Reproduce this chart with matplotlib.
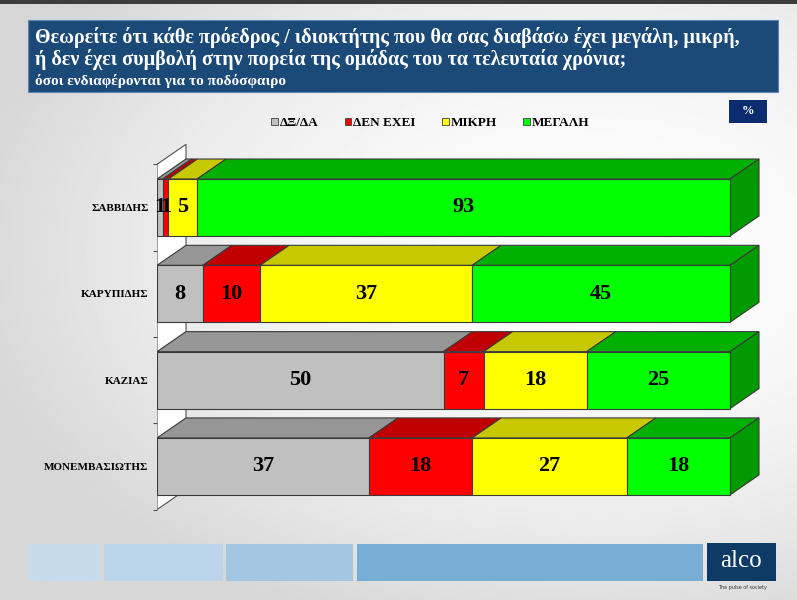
import numpy as np
import matplotlib.pyplot as plt
from matplotlib.patches import Rectangle, Polygon, Patch

# ------------------------------
# Data
# ------------------------------
people = ['ΣΑΒΒΙΔΗΣ', 'ΚΑΡΥΠΙΔΗΣ', 'ΚΑΖΙΑΣ', 'ΜΟΝΕΜΒΑΣΙΩΤΗΣ']
answers = ['ΔΞ/ΔΑ', 'ΔΕΝ ΕΧΕΙ', 'ΜΙΚΡΗ', 'ΜΕΓΑΛΗ']
dk_na = [1, 8, 50, 37]
none_ = [1, 10, 7, 18]
small = [5, 37, 18, 27]
large = [93, 45, 25, 18]
series = [dk_na, none_, small, large]

title1 = 'Θεωρείτε ότι κάθε πρόεδρος / ιδιοκτήτης που θα σας διαβάσω έχει μεγάλη, μικρή,'
title2 = 'ή δεν έχει συμβολή στην πορεία της ομάδας του τα τελευταία χρόνια;'
subtitle = 'όσοι ενδιαφέρονται για το ποδόσφαιρο'

front = ['#c0c0c0', '#ff0000', '#ffff00', '#00ff00']
top = ['#969696', '#c00000', '#c8c800', '#00b000']
side = '#009a00'
edge = '#3a3a3a'
serif = 'Liberation Serif'

W, H = 797, 600
fig = plt.figure(figsize=(W / 100, H / 100), dpi=100)

# ------------------------------
# Background + decoration (pixel coordinates)
# ------------------------------
bg = fig.add_axes([0, 0, 1, 1])
yy, xx = np.mgrid[0:1:300j, 0:1:400j]
grad = 0.99 - 0.13 * ((xx - 0.75) / 0.75) ** 2 - 0.12 * ((yy - 0.42) / 0.6) ** 2
grad = np.clip(grad, 0.84, 1.0)
bg.imshow(grad, cmap='gray', vmin=0, vmax=1, extent=[0, W, H, 0], aspect='auto')
bg.set_xlim(0, W)
bg.set_ylim(H, 0)
bg.axis('off')
bg.add_patch(Rectangle((0, 0), W, 4, color='#3c3c3c', lw=0))

# title box
bg.add_patch(Rectangle((28, 20), 750, 72, facecolor='#1c4a78', edgecolor='#5a86b8', lw=0.8))
bg.text(35, 37, title1, color='white', fontsize=14.5, fontweight='bold', family=serif, va='center')
bg.text(35, 60, title2, color='white', fontsize=14.5, fontweight='bold', family=serif, va='center')
bg.text(35, 81, subtitle, color='white', fontsize=11, fontweight='bold', family=serif, va='center')

# % box
bg.add_patch(Rectangle((729, 100), 38, 23, color='#0b2c6e', lw=0))
bg.text(748, 111.5, '%', color='white', fontsize=9, fontweight='bold', family=serif,
        ha='center', va='center')

# bottom strip
for x0, x1, c in [(29, 100, '#c5dbeb'), (104, 223, '#bcd4ea'), (226, 353, '#a3c6e2'), (357, 703, '#78aed5')]:
    bg.add_patch(Rectangle((x0, 544), x1 - x0, 37, color=c, lw=0))
bg.add_patch(Rectangle((707, 543), 69, 38, color='#0e3a66', lw=0))
bg.text(741, 561, 'alco', color='white', fontsize=18, family=serif, ha='center', va='center')
bg.text(742, 588, 'The pulse of society', color='#333333', fontsize=3.5, ha='center', va='center')

# ------------------------------
# 3D stacked bars
# ------------------------------
px_per_unit = 5.73
ax = fig.add_axes([157 / W, 88 / H, (762 - 157) / W, 372 / H])
ax.set_xlim(0, (762 - 157) / px_per_unit)
ax.set_ylim(3.528, -0.782)
ax.patch.set_alpha(0)
for s in ax.spines.values():
    s.set_visible(False)

dx = 29 / px_per_unit
dy = 20 / 86.3
h = 0.66

# side wall
ax.add_patch(Polygon([(0, -0.5), (dx, -0.5 - dy), (dx, 3.5 - dy), (0, 3.5)],
                     closed=True, facecolor='white', edgecolor='#505050', lw=0.8, zorder=1))

for i, name in enumerate(people):
    left = 0
    y0 = i - h / 2
    for j, vals in enumerate(series):
        v = vals[i]
        ax.add_patch(Polygon([(left, y0), (left + dx, y0 - dy), (left + v + dx, y0 - dy), (left + v, y0)],
                             closed=True, facecolor=top[j], edgecolor=edge, lw=0.8, zorder=2))
        ax.add_patch(Rectangle((left, y0), v, h, facecolor=front[j], edgecolor=edge, lw=0.8, zorder=3))
        ax.text(left + v / 2, i, str(v), ha='center', va='center', fontsize=16,
                fontweight='bold', family=serif, zorder=5)
        left += v
    ax.add_patch(Polygon([(left, y0), (left + dx, y0 - dy), (left + dx, y0 + h - dy), (left, y0 + h)],
                         closed=True, facecolor=side, edgecolor=edge, lw=0.8, zorder=2))

ax.set_xticks([])
ax.set_yticks([-0.5, 0.5, 1.5, 2.5, 3.5])
ax.set_yticklabels([])
ax.tick_params(axis='y', which='major', length=3, color='#505050')
ax.set_yticks(range(len(people)), minor=True)
ax.set_yticklabels(people, minor=True, fontsize=8, fontweight='bold', family=serif)
ax.tick_params(axis='y', which='minor', length=0, pad=6)

# legend
handles = [Patch(facecolor=front[j], edgecolor='#404040', lw=0.6) for j in range(4)]
fig.legend(handles, answers, loc='center', bbox_to_anchor=(0.540, 0.795), ncol=4,
           frameon=False, handlelength=0.5, handleheight=0.5, handletextpad=0.15,
           columnspacing=2.0, prop=dict(family=serif, weight='bold', size=9.5))

fig.savefig('out.png', dpi=100)
